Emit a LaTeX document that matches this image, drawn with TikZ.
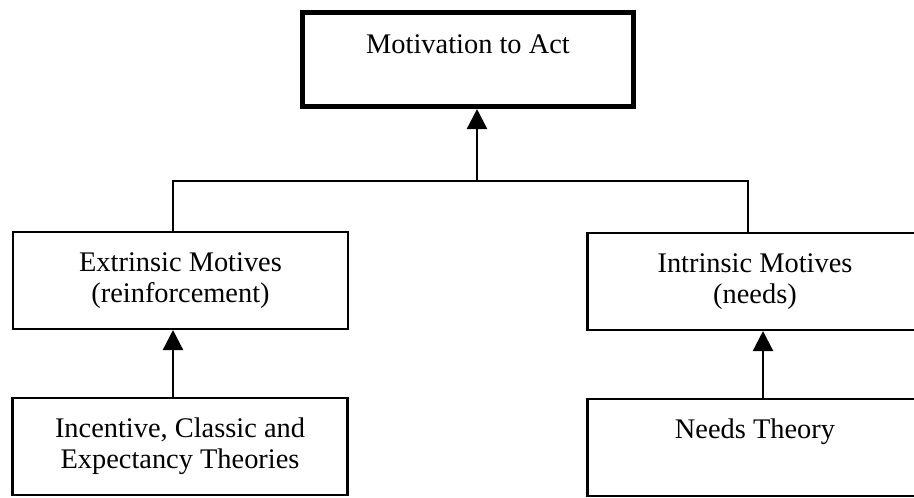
\documentclass[tikz,border=0pt]{standalone}
\usepackage{fontspec}
\setmainfont{Liberation Serif}
\usetikzlibrary{arrows.meta}

\begin{document}
\begin{tikzpicture}[x=.75pt,y=-.75pt,
  box/.style={draw,line width=1.8pt,align=center,inner sep=0pt,minimum width=251pt,minimum height=72.5pt,font=\fontsize{21.3}{23.3}\selectfont},
  topbox/.style={box,line width=3.6pt,minimum width=248pt,minimum height=70.7pt},
  wire/.style={line width=1.8pt},
  arw/.style={wire,-{Triangle[width=15pt,length=15pt]}}]
\path[use as bounding box] (0,0) rectangle (914,497);
\clip (0,0) rectangle (914,497);

% boxes
\node[topbox] (mot) at (468,59.5) {Motivation to Act\\\phantom{Act}};
\node[box] (ext) at (180.5,280.5) {Extrinsic Motives\\(reinforcement)};
\node[box] (intr) at (755,281.5) {Intrinsic Motives\\(needs)};
\node[box] (inc) at (180,446.5) {Incentive, Classic and\\Expectancy Theories};
\node[box] (need) at (755,447.5) {Needs Theory\\\phantom{Theory}};

% connectors
\coordinate (jn) at (477,181);
\coordinate (jl) at (173,181);
\coordinate (jr) at (748,181);
\coordinate (ar) at (763,400);
\draw[wire] (ext.north -| jl) -- (jl) -- (jr) -- (intr.north -| jr);
\draw[arw] (jn) -- (mot.south -| jn);
\draw[arw] (inc.north -| jl) -- (ext.south -| jl);
\draw[arw] (need.north -| ar) -- (intr.south -| ar);
\end{tikzpicture}
\end{document}
